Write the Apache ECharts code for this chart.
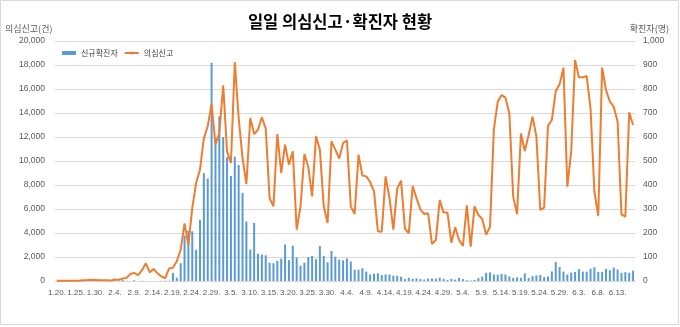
<!DOCTYPE html>
<html><head><meta charset="utf-8">
<script src="https://cdn.jsdelivr.net/npm/echarts@6/dist/echarts.min.js"></script>
<style>html,body{margin:0;padding:0;background:#fff}#c{width:680px;height:327px}</style>
</head><body><div id="c"></div>
<script>
const categories = [
'1.20.','1.21.','1.22.','1.23.','1.24.','1.25.','1.26.','1.27.','1.28.','1.29.','1.30.','1.31.',
'2.1.','2.2.','2.3.','2.4.','2.5.','2.6.','2.7.','2.8.','2.9.','2.10.','2.11.','2.12.','2.13.','2.14.','2.15.','2.16.','2.17.','2.18.','2.19.','2.20.','2.21.','2.22.','2.23.','2.24.','2.25.','2.26.','2.27.','2.28.','2.29.',
'3.1.','3.2.','3.3.','3.4.','3.5.','3.6.','3.7.','3.8.','3.9.','3.10.','3.11.','3.12.','3.13.','3.14.','3.15.','3.16.','3.17.','3.18.','3.19.','3.20.','3.21.','3.22.','3.23.','3.24.','3.25.','3.26.','3.27.','3.28.','3.29.','3.30.','3.31.',
'4.1.','4.2.','4.3.','4.4.','4.5.','4.6.','4.7.','4.8.','4.9.','4.10.','4.11.','4.12.','4.13.','4.14.','4.15.','4.16.','4.17.','4.18.','4.19.','4.20.','4.21.','4.22.','4.23.','4.24.','4.25.','4.26.','4.27.','4.28.','4.29.','4.30.',
'5.1.','5.2.','5.3.','5.4.','5.5.','5.6.','5.7.','5.8.','5.9.','5.10.','5.11.','5.12.','5.13.','5.14.','5.15.','5.16.','5.17.','5.18.','5.19.','5.20.','5.21.','5.22.','5.23.','5.24.','5.25.','5.26.','5.27.','5.28.','5.29.','5.30.','5.31.',
'6.1.','6.2.','6.3.','6.4.','6.5.','6.6.','6.7.','6.8.','6.9.','6.10.','6.11.','6.12.','6.13.','6.14.','6.15.','6.16.','6.17.'
];

// 신규확진자 (right axis, 명)
const newCases = [
1,0,0,0,1,0,1,1,0,0,2,5,
1,3,0,1,2,5,1,0,3,0,1,0,0,0,0,1,1,1,34,14,74,190,210,207,130,254,449,427,909,
595,686,600,516,438,518,483,367,248,131,242,114,110,107,76,74,84,93,152,87,147,98,64,76,100,104,91,146,105,78,125,
101,89,86,94,81,47,47,53,39,27,30,32,25,27,27,22,22,18,8,13,9,11,8,6,10,10,10,14,9,4,
9,6,13,8,3,2,4,12,18,34,35,27,26,29,27,19,13,15,13,32,12,20,23,25,16,19,40,79,58,39,27,
35,38,49,39,39,51,57,38,38,50,45,56,48,34,37,34,43
];

// 의심신고 (left axis, 건)
const suspectReports = [
20,20,25,30,30,30,40,60,80,110,90,70,
60,60,50,120,110,200,260,580,680,480,900,1470,720,1000,640,380,230,1050,1100,1650,2600,4800,3000,6100,8170,9280,11900,12900,14750,
11360,12330,16300,10800,9830,18250,13580,10250,8080,13580,12250,12600,13640,12700,6900,6220,12250,9000,11360,9700,10800,4280,6220,10580,9500,7050,12060,10950,6220,4830,11640,
10950,10200,11500,11720,6220,5580,10530,8780,8720,8250,7470,4140,4110,8720,6920,4280,7700,8360,4360,3980,7920,6890,5970,5580,5640,3080,3420,6750,5700,5700,
3190,4470,3420,2920,6300,2860,6220,5500,5170,3860,4520,12640,14940,15500,15280,13970,7030,5560,12300,10830,12170,13700,12030,5920,6110,12950,13420,15830,16390,17780,7860,
10780,18420,16970,16970,17080,14390,7440,5440,17780,15920,14940,14530,13280,5560,5360,14060,13000
];

const FONT = '"Noto Sans CJK KR", "Noto Sans", sans-serif';
const NUMFONT = '"Liberation Sans", Arial, sans-serif';
const fmt = v => Number(v).toLocaleString('en-US');
const chart = echarts.init(document.getElementById('c'), null, {renderer: 'canvas'});
chart.setOption({
  animation: false,
  textStyle: {fontFamily: FONT},
  title: {
    text: '일일 의심신고·확진자 현황', left: 'center', top: 8,
    textStyle: {fontSize: 16.5, fontWeight: 'bold', color: '#000', fontFamily: FONT}
  },
  legend: {
    left: 57, top: 44, itemWidth: 14, itemHeight: 4, itemGap: 6,
    textStyle: {fontSize: 8, color: '#404040', fontFamily: FONT},
    data: [{name: '신규확진자', icon: 'rect'}, {name: '의심신고'}]
  },
  grid: {left: 55, right: 45, top: 41, bottom: 46},
  graphic: [
    {type: 'rect', shape: {x: 0.5, y: 0.5, width: 678, height: 324}, style: {fill: 'none', stroke: '#d9d9d9', lineWidth: 1}, silent: true},
    {type: 'text', left: 5, top: 24, style: {text: '의심신고(건)', fontSize: 9, fill: '#595959', fontFamily: FONT}},
    {type: 'text', right: 11, top: 24, style: {text: '확진자(명)', fontSize: 9, fill: '#595959', fontFamily: FONT}}
  ],
  xAxis: {
    type: 'category', data: categories, boundaryGap: true,
    axisTick: {show: false},
    axisLine: {lineStyle: {color: '#d9d9d9'}},
    axisLabel: {interval: 4, showMinLabel: true, hideOverlap: false, fontSize: 8, color: '#595959', margin: 8, fontFamily: NUMFONT}
  },
  yAxis: [
    {type: 'value', min: 0, max: 20000, interval: 2000,
     axisLabel: {fontSize: 8.5, color: '#595959', margin: 10, formatter: fmt, fontFamily: NUMFONT},
     splitLine: {lineStyle: {color: '#d9d9d9'}}, axisLine: {show: false}, axisTick: {show: false}},
    {type: 'value', min: 0, max: 1000, interval: 100,
     axisLabel: {fontSize: 8.5, color: '#595959', margin: 8, formatter: fmt, fontFamily: NUMFONT},
     splitLine: {show: false}, axisLine: {show: false}, axisTick: {show: false}}
  ],
  series: [
    {name: '신규확진자', type: 'bar', yAxisIndex: 1, data: newCases, barWidth: 2,
     itemStyle: {color: '#5b9bd5'}},
    {name: '의심신고', type: 'line', yAxisIndex: 0, data: suspectReports, symbol: 'none',
     lineStyle: {color: '#ed7d31', width: 2}, itemStyle: {color: '#ed7d31'}}
  ]
});
</script>
</body></html>
